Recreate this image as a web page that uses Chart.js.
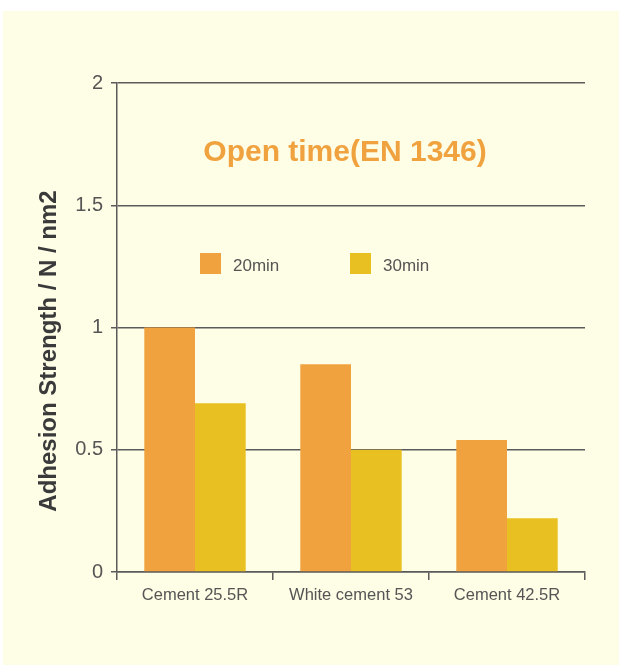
<!DOCTYPE html>
<html>
<head>
<meta charset="utf-8">
<script src="https://cdn.jsdelivr.net/npm/chart.js@4/dist/chart.umd.min.js"></script>
<style>
  html, body { margin: 0; padding: 0; background: #fff; }
  #panel { position: absolute; left: 3px; top: 11px; width: 616px; height: 654px; background: #fefde5; }
  #wrap { position: absolute; left: 0; top: 0; width: 619px; height: 665px; }
</style>
</head>
<body>
<div id="panel"></div>
<div id="wrap"><canvas id="chart" width="619" height="665"></canvas></div>
<script>
const categories = ['Cement 25.5R', 'White cement 53', 'Cement 42.5R'];
const seriesNames = ['20min', '30min'];
const values20 = [1.0, 0.85, 0.54];
const values30 = [0.69, 0.5, 0.22];
const yTicks = [0, 0.5, 1, 1.5, 2];

const axisColor = '#5b5b5b';
const textColor = '#555555';
const orange = '#f0a23f';
const yellow = '#e9c022';
const fontFamily = '"Liberation Sans", Arial, sans-serif';

// title, legend and y-axis label sit inside the plot, drawn by hand
const overlay = {
  id: 'overlay',
  afterDraw(chart) {
    const ctx = chart.ctx;
    ctx.save();
    ctx.fillStyle = orange;
    ctx.font = 'bold 30px ' + fontFamily;
    ctx.textAlign = 'center';
    ctx.textBaseline = 'middle';
    ctx.fillText('Open time(EN 1346)', 345, 153);

    const boxX = [200, 350];
    chart.data.datasets.forEach(function(ds, i) {
      ctx.fillStyle = ds.backgroundColor;
      ctx.fillRect(boxX[i], 253, 21, 21);
      ctx.fillStyle = textColor;
      ctx.font = '17px ' + fontFamily;
      ctx.textAlign = 'left';
      ctx.fillText(ds.label, boxX[i] + 33, 266);
    });

    ctx.translate(49, 351);
    ctx.rotate(-Math.PI / 2);
    ctx.fillStyle = '#3a3a3a';
    ctx.font = 'bold 24px ' + fontFamily;
    ctx.textAlign = 'center';
    ctx.fillText('Adhesion Strength / N / nm2', 0, 0);
    ctx.restore();
  }
};

const ctx = document.getElementById('chart').getContext('2d');
const chart = new Chart(ctx, {
  type: 'bar',
  data: {
    labels: categories,
    datasets: [{
      label: seriesNames[0],
      backgroundColor: orange,
      data: values20,
      categoryPercentage: 0.65,
      barPercentage: 1.0
    }, {
      label: seriesNames[1],
      backgroundColor: yellow,
      data: values30,
      categoryPercentage: 0.65,
      barPercentage: 1.0
    }]
  },
  options: {
    responsive: false,
    animation: false,
    layout: { padding: { left: 0, right: 34, top: 83, bottom: 0 } },
    plugins: {
      legend: { display: false },
      tooltip: { enabled: false }
    },
    scales: {
      x: {
        offset: true,
        grid: { offset: true, drawOnChartArea: false, color: axisColor, lineWidth: 1.5, tickLength: 8 },
        border: { color: axisColor, width: 1.5 },
        ticks: { color: textColor, font: { family: fontFamily, size: 16.5 }, padding: 6, maxRotation: 0 },
        afterFit: function(scale) { scale.height = 93; }
      },
      y: {
        min: 0,
        max: 2,
        afterBuildTicks: function(scale) { scale.ticks = yTicks.map(function(v) { return { value: v }; }); },
        grid: { color: axisColor, lineWidth: 1.5, tickLength: 6 },
        border: { color: axisColor, width: 1.5 },
        ticks: {
          color: textColor,
          font: { family: fontFamily, size: 20 },
          padding: 8,
          callback: function(v) { return String(v); }
        },
        afterFit: function(scale) { scale.width = 117; }
      }
    }
  },
  plugins: [overlay]
});
</script>
</body>
</html>
